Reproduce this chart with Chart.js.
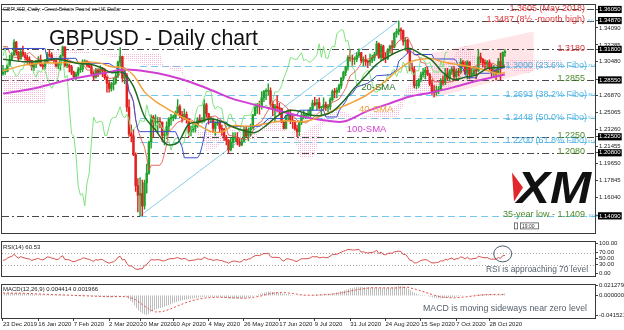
<!DOCTYPE html>
<html>
<head>
<meta charset="utf-8">
<title>GBPUSD - Daily chart</title>
<script src="https://cdn.jsdelivr.net/npm/chart.js"></script>
<style>
  html, body { margin: 0; padding: 0; background: #fff; }
  #wrap { position: relative; width: 624px; height: 330px; overflow: hidden; background: #fff; }
  #wrap canvas { position: absolute; left: 0; }
  #main { top: 0; }
  #rsi { top: 237px; }
  #macd { top: 280px; }
</style>
</head>
<body>
<div id="wrap">
  <canvas id="main" width="624" height="237"></canvas>
  <canvas id="rsi" width="624" height="43"></canvas>
  <canvas id="macd" width="624" height="50"></canvas>
</div>
<script>
// daily bars 23 Dec 2019 .. 6 Nov 2020 (index = bar number)
const closes = [
  1.2940,1.2945,1.3010,1.3075,1.3120,1.3255,1.3150,1.3080,1.3155,1.3120,
  1.3095,1.3065,1.3060,1.2990,1.3020,1.3040,1.3070,1.3010,1.3000,1.3045,
  1.3125,1.3120,1.3075,1.3060,1.3005,1.3015,1.3110,1.3205,1.3010,1.3010,
  1.2995,1.2935,1.2890,1.2915,1.2965,1.2970,1.3045,1.3050,1.3010,1.2995,
  1.2925,1.2885,1.2960,1.2935,1.2970,1.2955,1.2880,1.2820,1.2765,1.2805,
  1.2825,1.2895,1.3045,1.3105,1.2875,1.2905,1.2565,1.2280,1.2260,1.2060,
  1.1730,1.1630,1.1645,1.1515,1.1760,1.1865,1.2195,1.2460,1.2405,1.2405,
  1.2415,1.2405,1.2265,1.2265,1.2360,1.2440,1.2455,1.2455,1.2510,1.2570,
  1.2480,1.2450,1.2490,1.2435,1.2305,1.2325,1.2355,1.2365,1.2430,1.2415,
  1.2415,1.2590,1.2495,1.2440,1.2440,1.2340,1.2390,1.2405,1.2340,1.2330,
  1.2245,1.2215,1.2110,1.2190,1.2235,1.2235,1.2195,1.2165,1.2200,1.2330,
  1.2260,1.2325,1.2345,1.2480,1.2565,1.2585,1.2580,1.2665,1.2730,1.2735,
  1.2740,1.2595,1.2545,1.2575,1.2560,1.2550,1.2410,1.2340,1.2475,1.2495,
  1.2420,1.2415,1.2335,1.2305,1.2400,1.2475,1.2475,1.2480,1.2480,1.2545,
  1.2610,1.2595,1.2615,1.2560,1.2565,1.2590,1.2560,1.2570,1.2645,1.2730,
  1.2725,1.2745,1.2795,1.2875,1.2935,1.2995,1.3095,1.3085,1.3075,1.3075,
  1.3115,1.3145,1.3060,1.3075,1.3050,1.3045,1.3065,1.3090,1.3125,1.3240,
  1.3095,1.3215,1.3090,1.3085,1.3175,1.3215,1.3205,1.3350,1.3370,1.3390,
  1.3380,1.3265,1.3275,1.3160,1.2985,1.2965,1.2795,1.2795,1.2855,1.2910,
  1.2940,1.2960,1.2915,1.2815,1.2730,1.2725,1.2745,1.2750,1.2840,1.2825,
  1.2920,1.2875,1.2945,1.2970,1.2890,1.2945,1.2935,1.3045,1.3010,1.2925,
  1.3045,1.2915,1.2915,1.2955,1.2950,1.3100,1.3075,1.3040,1.3025,1.3045,
  1.2975,1.2935,1.2945,1.2930,1.3050,1.2990,1.3145,1.3150
];
const highs = [
  1.3010,1.2975,1.3020,1.3120,1.3145,1.3285,1.3265,1.3160,1.3190,1.3215,
  1.3150,1.3120,1.3100,1.3065,1.3050,1.3065,1.3105,1.3120,1.3030,1.3075,
  1.3150,1.3170,1.3145,1.3080,1.3080,1.3045,1.3120,1.3215,1.3210,1.3070,
  1.3025,1.3010,1.2950,1.2940,1.2990,1.3015,1.3070,1.3070,1.3060,1.3050,
  1.3010,1.2945,1.2980,1.2975,1.3005,1.2990,1.2975,1.2895,1.2840,1.2830,
  1.2875,1.2930,1.3055,1.3200,1.3110,1.2985,1.2925,1.2645,1.2375,1.2330,
  1.2080,1.1805,1.1815,1.1790,1.1790,1.1960,1.2205,1.2485,1.2475,1.2485,
  1.2460,1.2455,1.2410,1.2320,1.2410,1.2455,1.2490,1.2480,1.2525,1.2647,
  1.2590,1.2520,1.2545,1.2515,1.2440,1.2365,1.2405,1.2395,1.2455,1.2485,
  1.2455,1.2645,1.2605,1.2500,1.2465,1.2450,1.2410,1.2435,1.2420,1.2375,
  1.2340,1.2265,1.2220,1.2240,1.2295,1.2295,1.2295,1.2230,1.2235,1.2360,
  1.2360,1.2345,1.2385,1.2490,1.2585,1.2605,1.2630,1.2730,1.2745,1.2760,
  1.2813,1.2770,1.2630,1.2595,1.2690,1.2605,1.2555,1.2420,1.2480,1.2540,
  1.2540,1.2470,1.2425,1.2375,1.2405,1.2500,1.2530,1.2500,1.2535,1.2565,
  1.2640,1.2670,1.2650,1.2665,1.2575,1.2665,1.2620,1.2595,1.2665,1.2750,
  1.2765,1.2770,1.2810,1.2880,1.2950,1.3000,1.3115,1.3170,1.3120,1.3100,
  1.3145,1.3185,1.3145,1.3100,1.3120,1.3065,1.3130,1.3120,1.3150,1.3267,
  1.3250,1.3235,1.3225,1.3140,1.3190,1.3225,1.3275,1.3360,1.3400,1.3482,
  1.3410,1.3385,1.3305,1.3290,1.3165,1.3035,1.3000,1.2850,1.2870,1.2940,
  1.2980,1.2990,1.2995,1.2925,1.2855,1.2795,1.2790,1.2785,1.2870,1.2900,
  1.2980,1.2980,1.2965,1.2995,1.3000,1.2970,1.2980,1.3082,1.3065,1.3050,
  1.3060,1.3050,1.2975,1.3000,1.2990,1.3177,1.3140,1.3085,1.3070,1.3060,
  1.3070,1.3025,1.3010,1.2970,1.3085,1.3140,1.3155,1.3177
];
const lows = [
  1.2905,1.2915,1.2940,1.3000,1.3065,1.3115,1.3120,1.3050,1.3075,1.3105,
  1.3065,1.3030,1.3010,1.2960,1.2955,1.2985,1.3030,1.3000,1.2965,1.2970,
  1.3040,1.3100,1.3060,1.3035,1.2990,1.2975,1.2960,1.3100,1.2995,1.2985,
  1.2940,1.2910,1.2870,1.2850,1.2895,1.2935,1.2940,1.3020,1.2990,1.2985,
  1.2905,1.2850,1.2875,1.2890,1.2920,1.2890,1.2860,1.2725,1.2725,1.2735,
  1.2745,1.2810,1.2880,1.3000,1.2835,1.2815,1.2520,1.2255,1.2195,1.2050,
  1.1670,1.1450,1.1409,1.1410,1.1480,1.1650,1.1850,1.2130,1.2240,1.2305,
  1.2290,1.2345,1.2200,1.2165,1.2230,1.2310,1.2375,1.2420,1.2440,1.2500,
  1.2455,1.2405,1.2435,1.2395,1.2250,1.2260,1.2300,1.2300,1.2350,1.2400,
  1.2395,1.2405,1.2460,1.2385,1.2400,1.2300,1.2265,1.2370,1.2300,1.2265,
  1.2210,1.2165,1.2075,1.2100,1.2135,1.2195,1.2165,1.2145,1.2155,1.2200,
  1.2245,1.2205,1.2260,1.2335,1.2475,1.2500,1.2490,1.2545,1.2625,1.2645,
  1.2690,1.2575,1.2475,1.2410,1.2520,1.2490,1.2400,1.2330,1.2335,1.2420,
  1.2390,1.2340,1.2320,1.2252,1.2260,1.2380,1.2440,1.2445,1.2465,1.2460,
  1.2530,1.2580,1.2540,1.2545,1.2480,1.2535,1.2530,1.2515,1.2540,1.2630,
  1.2665,1.2665,1.2720,1.2765,1.2850,1.2900,1.2960,1.3055,1.3005,1.3020,
  1.3050,1.3095,1.3040,1.3005,1.3010,1.2985,1.3010,1.3040,1.3060,1.3115,
  1.3085,1.3060,1.3065,1.3040,1.3070,1.3140,1.3135,1.3195,1.3310,1.3335,
  1.3290,1.3225,1.3170,1.3140,1.2950,1.2940,1.2770,1.2760,1.2775,1.2835,
  1.2885,1.2865,1.2900,1.2795,1.2700,1.2675,1.2690,1.2710,1.2740,1.2800,
  1.2805,1.2855,1.2845,1.2915,1.2865,1.2865,1.2900,1.2925,1.2995,1.2915,
  1.2865,1.2865,1.2880,1.2900,1.2865,1.2945,1.3035,1.2990,1.2975,1.2985,
  1.2960,1.2880,1.2880,1.2855,1.2915,1.2855,1.2980,1.3105
];
const firstOpen = 1.2920;

const dateIdx = [0, 16, 32, 48, 62, 77, 93, 109, 125, 141, 157, 173, 189, 205, 220];
const dateLabels = ['23 Dec 2019', '16 Jan 2020', '7 Feb 2020', '2 Mar 2020', '20 Mar 2020', '10 Apr 2020',
  '4 May 2020', '26 May 2020', '17 Jun 2020', '9 Jul 2020', '31 Jul 2020', '24 Aug 2020',
  '15 Sep 2020', '7 Oct 2020', '28 Oct 2020'];

const priceTicks = [1.36050, 1.34870, 1.34090, 1.32285, 1.31800, 1.30480, 1.28550, 1.26870, 1.25065,
  1.23260, 1.22500, 1.21455, 1.20800, 1.19650, 1.17845, 1.16040, 1.14090];
const boxedTicks = [1.36050, 1.34870, 1.31800, 1.28550, 1.22500, 1.20800, 1.14090];

// moving averages [bar, value]
const sma20 = [[0,1.3075],[9,1.3050],[19,1.3062],[24,1.3077],[29,1.3057],[34,1.3030],[39,1.3025],[44,1.2990],
  [49,1.2934],[54,1.2936],[59,1.2786],[64,1.2466],[69,1.2321],[74,1.2170],[79,1.2188],[84,1.2382],[89,1.2410],
  [94,1.2443],[99,1.2412],[104,1.2354],[109,1.2315],[114,1.2295],[119,1.2370],[124,1.2471],[129,1.2528],
  [134,1.2523],[139,1.2481],[144,1.2477],[149,1.2519],[154,1.2629],[159,1.2772],[164,1.2897],[169,1.3021],
  [174,1.3100],[179,1.3160],[184,1.3191],[189,1.3129],[194,1.3064],[199,1.2932],[204,1.2858],[209,1.2885],
  [214,1.2906],[219,1.2976],[224,1.2988],[227,1.3000]];
const sma40 = [[0,1.2950],[9,1.3010],[19,1.3035],[29,1.3040],[39,1.3044],[44,1.3034],[49,1.2996],[54,1.2983],
  [59,1.2906],[64,1.2728],[69,1.2628],[74,1.2553],[79,1.2487],[84,1.2424],[89,1.2366],[94,1.2307],[99,1.2300],
  [104,1.2368],[109,1.2363],[114,1.2369],[119,1.2391],[124,1.2413],[129,1.2422],[134,1.2409],[139,1.2426],
  [144,1.2474],[149,1.2524],[154,1.2576],[159,1.2627],[164,1.2687],[169,1.2770],[174,1.2865],[179,1.2966],
  [184,1.3044],[189,1.3075],[194,1.3082],[199,1.3046],[204,1.3025],[209,1.3007],[214,1.2985],[219,1.2954],
  [224,1.2923],[227,1.2935]];
const sma100 = [[0,1.2710],[15,1.2770],[30,1.2860],[45,1.2925],[55,1.2965],[65,1.2945],[75,1.2900],[85,1.2830],
  [95,1.2740],[104,1.2654],[114,1.2590],[124,1.2532],[134,1.2473],[144,1.2430],[154,1.2412],[164,1.2516],
  [174,1.2598],[184,1.2678],[194,1.2722],[204,1.2779],[214,1.2844],[227,1.2914]];

// ichimoku lines [bar, value]
const tenkan = [[0,1.3210],[2,1.3210],[3,1.3143],[4,1.3118],[5,1.3095],[8,1.3095],[12,1.3148],[15,1.3085],
  [20,1.3053],[24,1.3068],[28,1.3088],[32,1.3043],[36,1.3030],[38,1.2960],[42,1.2960],[46,1.2955],[48,1.2868],
  [52,1.2890],[54,1.2963],[56,1.2860],[57,1.2728],[59,1.2625],[60,1.2435],[61,1.2325],[62,1.2255],[63,1.2197],
  [64,1.2140],[65,1.2027],[66,1.1892],[67,1.1947],[71,1.1948],[72,1.1983],[73,1.2068],[74,1.2168],[75,1.2308],
  [76,1.2325],[79,1.2406],[84,1.2449],[88,1.2385],[92,1.2448],[96,1.2473],[100,1.2405],[102,1.2268],[106,1.2248],
  [110,1.2218],[112,1.2255],[114,1.2368],[117,1.2415],[120,1.2537],[123,1.2647],[126,1.2607],[128,1.2572],
  [130,1.2510],[133,1.2426],[137,1.2396],[140,1.2446],[143,1.2510],[146,1.2565],[149,1.2615],[152,1.2650],
  [155,1.2765],[157,1.2900],[160,1.2960],[163,1.3068],[166,1.3083],[170,1.3133],[174,1.3153],[177,1.3210],
  [179,1.3271],[183,1.3311],[185,1.3216],[186,1.3126],[188,1.3110],[189,1.3045],[191,1.3030],[192,1.2968],
  [193,1.2903],[194,1.2885],[195,1.2838],[199,1.2835],[201,1.2828],[204,1.2845],[205,1.2855],[206,1.2870],
  [207,1.2941],[209,1.2966],[212,1.2974],[215,1.3021],[218,1.3021],[220,1.3038],[222,1.3028],[224,1.2998],
  [226,1.3005],[227,1.3015]];
const kijun = [[0,1.3190],[19,1.3190],[20,1.3085],[33,1.3085],[34,1.3035],[48,1.3030],[52,1.2970],[55,1.2970],
  [56,1.2868],[57,1.2735],[58,1.2698],[59,1.2625],[60,1.2435],[61,1.2325],[62,1.2305],[78,1.2305],[79,1.2255],
  [80,1.2197],[81,1.2140],[82,1.2027],[88,1.2027],[89,1.2063],[90,1.2148],[91,1.2248],[92,1.2390],[93,1.2406],
  [101,1.2406],[102,1.2361],[116,1.2361],[117,1.2372],[120,1.2444],[127,1.2444],[128,1.2482],[133,1.2482],
  [134,1.2533],[145,1.2533],[146,1.2461],[151,1.2461],[152,1.2526],[155,1.2626],[156,1.2676],[158,1.2711],
  [160,1.2780],[165,1.2820],[169,1.2900],[175,1.2910],[178,1.2960],[179,1.3056],[182,1.3116],[184,1.3171],
  [186,1.3126],[194,1.3126],[195,1.3078],[204,1.3078],[205,1.3060],[206,1.2998],[208,1.2980],[209,1.2920],
  [210,1.2878],[214,1.2878],[215,1.2926],[220,1.2926],[221,1.2933],[222,1.2953],[227,1.2990]];
const chikouShift = 26;

// kumo (senkou spans, already shifted forward)
const cloudX = [
  0, 10, 19, 20, 25, 26, 28, 29, 35, 45,
  55, 65, 71, 72, 73, 79, 80, 81, 82, 83,
  84, 85, 86, 87, 88, 89, 90, 92, 96, 99,
  101, 105, 106, 108, 110, 114, 118, 122, 126, 128,
  130, 131, 132, 133, 134, 136, 140, 141, 142, 143,
  144, 145, 146, 149, 152, 154, 156, 159, 163, 166,
  169, 172, 175, 178, 179, 180, 181, 182, 183, 185,
  186, 189, 192, 194, 195, 196, 200, 202, 203, 205,
  209, 211, 212, 215, 216, 218, 219, 220, 221, 225,
  226, 227, 230, 232, 235, 238, 241, 246, 250, 253];
const spanA = [
  1.2900, 1.2920, 1.2950, 1.3100, 1.3180, 1.3180, 1.3180, 1.3180, 1.3170, 1.3120,
  1.3070, 1.3010, 1.3000, 1.3000, 1.3000, 1.2935, 1.2966, 1.2920, 1.2864, 1.2731,
  1.2690, 1.2625, 1.2435, 1.2325, 1.2280, 1.2250, 1.2222, 1.2098, 1.2126, 1.2187,
  1.2307, 1.2330, 1.2300, 1.2214, 1.2238, 1.2206, 1.2419, 1.2440, 1.2405, 1.2315,
  1.2310, 1.2305, 1.2305, 1.2300, 1.2295, 1.2290, 1.2365, 1.2375, 1.2380, 1.2394,
  1.2420, 1.2450, 1.2490, 1.2546, 1.2526, 1.2527, 1.2496, 1.2454, 1.2465, 1.2490,
  1.2522, 1.2513, 1.2538, 1.2588, 1.2620, 1.2650, 1.2696, 1.2730, 1.2795, 1.2840,
  1.2870, 1.2934, 1.2957, 1.2990, 1.3000, 1.3017, 1.3032, 1.3060, 1.3075, 1.3164,
  1.3231, 1.3183, 1.3126, 1.3086, 1.3070, 1.3047, 1.3030, 1.3006, 1.2958, 1.2957,
  1.2958, 1.2960, 1.2962, 1.2934, 1.2943, 1.2926, 1.2974, 1.2982, 1.2976, 1.3003];
const spanB = [
  1.2600, 1.2600, 1.2600, 1.2860, 1.2860, 1.3020, 1.3020, 1.3143, 1.3143, 1.3143,
  1.3143, 1.3143, 1.3143, 1.3050, 1.3005, 1.3005, 1.3005, 1.3005, 1.2903, 1.2770,
  1.2740, 1.2668, 1.2478, 1.2368, 1.2347, 1.2312, 1.2312, 1.2312, 1.2312, 1.2312,
  1.2312, 1.2312, 1.2305, 1.2305, 1.2305, 1.2305, 1.2305, 1.2305, 1.2305, 1.2305,
  1.2305, 1.2255, 1.2197, 1.2140, 1.2028, 1.2028, 1.2028, 1.2063, 1.2148, 1.2248,
  1.2361, 1.2361, 1.2444, 1.2444, 1.2444, 1.2444, 1.2444, 1.2444, 1.2444, 1.2444,
  1.2444, 1.2444, 1.2444, 1.2444, 1.2478, 1.2550, 1.2575, 1.2660, 1.2670, 1.2690,
  1.2718, 1.2718, 1.2718, 1.2718, 1.2760, 1.2760, 1.2760, 1.2760, 1.2806, 1.2867,
  1.2867, 1.2867, 1.2936, 1.2950, 1.2961, 1.2970, 1.2981, 1.2981, 1.2981, 1.2981,
  1.3021, 1.3056, 1.3078, 1.3078, 1.3078, 1.3078, 1.3078, 1.3078, 1.3078, 1.3078];

// RSI(14), one value per bar
const rsi = [
  45,46,52,56,57,65,57,52,57,54, 52,50,49,44,47,49,51,47,46,50,
  56,55,52,51,47,48,55,60,47,47, 46,42,40,42,46,47,52,52,49,48,
  44,41,47,45,48,47,42,38,35,38, 40,45,55,58,46,48,34,26,26,21,
  16,14,17,16,27,31,40,47,46,46, 47,46,43,43,46,49,50,50,52,54,
  50,49,51,48,43,44,45,46,49,48, 48,55,51,48,48,44,46,47,44,44,
  40,39,35,39,42,42,40,39,41,48, 45,49,50,56,60,61,60,64,67,67,
  68,57,54,55,54,54,46,42,49,50, 47,46,42,41,46,50,50,50,50,53,
  57,56,57,53,54,55,53,54,59,64, 64,65,68,72,75,77,81,80,79,79,
  80,81,72,73,70,69,70,71,73,78, 67,72,64,63,67,69,68,73,74,75,
  74,64,64,56,45,44,36,36,40,44, 46,47,45,40,36,36,37,38,43,42,
  48,46,50,52,47,50,50,56,54,49, 55,49,49,51,51,58,56,54,53,54,
  50,48,49,48,54,51,60,60.5];
const rsiTicks = [100, 70, 50, 30, 0];
const rsiLevels = [70, 30];

// MACD(12,26,9) [bar, value]
const macdMain = [[0,0.0045],[5,0.0050],[8,0.0048],[12,0.0030],[16,0.0018],[20,0.0015],[24,0.0010],[27,0.0015],
  [30,-0.0002],[34,-0.0018],[38,-0.0012],[42,-0.0020],[46,-0.0030],[49,-0.0045],[52,-0.0010],[53,0.0005],
  [55,-0.0005],[56,-0.0040],[57,-0.0080],[58,-0.0120],[59,-0.0170],[60,-0.0240],[61,-0.0300],[62,-0.0340],
  [63,-0.0380],[64,-0.0400],[65,-0.0415],[66,-0.0385],[67,-0.0340],[69,-0.0290],[72,-0.0250],[75,-0.0200],
  [78,-0.0145],[81,-0.0100],[84,-0.0075],[88,-0.0050],[91,-0.0030],[95,-0.0035],[99,-0.0040],[102,-0.0065],
  [106,-0.0070],[110,-0.0050],[113,-0.0020],[116,0.0030],[120,0.0080],[123,0.0070],[126,0.0045],[130,0.0015],
  [134,-0.0010],[138,0.0000],[142,0.0020],[146,0.0020],[150,0.0045],[154,0.0095],[157,0.0150],[161,0.0180],
  [164,0.0170],[168,0.0160],[172,0.0160],[176,0.0165],[179,0.0200],[182,0.0180],[184,0.0120],[186,0.0055],
  [188,0.0020],[191,0.0005],[194,-0.0040],[197,-0.0065],[200,-0.0055],[204,-0.0035],[208,-0.0005],[212,0.0005],
  [216,0.0030],[220,0.0030],[223,0.0010],[225,0.0020],[227,0.0044]];
const macdSignal = [[0,0.0050],[8,0.0047],[16,0.0030],[24,0.0015],[32,0.0002],[40,-0.0014],[48,-0.0026],
  [54,-0.0022],[57,-0.0035],[60,-0.0090],[63,-0.0190],[66,-0.0290],[69,-0.0345],[72,-0.0340],[76,-0.0280],
  [80,-0.0200],[84,-0.0130],[88,-0.0080],[92,-0.0050],[98,-0.0038],[104,-0.0050],[110,-0.0060],[116,-0.0020],
  [121,0.0040],[126,0.0065],[131,0.0040],[136,0.0005],[142,0.0005],[148,0.0025],[154,0.0060],[160,0.0120],
  [166,0.0160],[172,0.0158],[178,0.0155],[183,0.0170],[187,0.0125],[191,0.0065],[195,0.0005],[199,-0.0040],
  [204,-0.0052],[209,-0.0032],[214,-0.0005],[219,0.0017],[224,0.0022],[227,0.0020]];
const macdTicks = [0.021279, 0, -0.041521];

// drawn objects
const grayLevels = [1.3605, 1.3487, 1.3180, 1.2855, 1.2250, 1.2080, 1.1409];
const fiboLevels = [1.3000, 1.2693, 1.2448, 1.2200, 1.1409];
const fiboPct = ['23.6', '38.2', '50.0', '61.8', '100.0'];
const trendFrom = [62, 1.1409];
const trendTo = [179, 1.3487];
const channelLow = [[194, 1.2660], [240, 1.2950]];
const channelHigh = [[194, 1.3140], [240, 1.3370]];
const levelValues = [1.3605, 1.3487, 1.3180, 1.3000, 1.2855, 1.2693, 1.2448, 1.2250, 1.2200, 1.2080, 1.1409];
const levelTexts = ['1.3605 (May 2018)', '1.3487 (8\u00bd -month high)', '1.3180', '1.3000 (23.6% Fibo)', '1.2855',
  '1.2693 (38.2% Fibo)', '1.2448 (50.0% Fibo)', '1.2250', '1.2200 (61.8% Fibo)', '1.2080', '35-year low - 1.1409'];
const levelKinds = ['r', 'r', 'r', 'b', 'g', 'b', 'b', 'g', 'b', 'g', 'g'];


const RED = '#e0393b', BLUE = '#4fb3e2', GREEN = '#4d8a2b';
const kindColor = { r: RED, b: BLUE, g: GREEN };
const FONT = 'Arial, "Liberation Sans", sans-serif';

const xMin = -0.45, xMax = 267.75;
const opens = closes.map((c, i) => i === 0 ? firstOpen : closes[i - 1]);  // daily open = prior close
const pts = arr => arr.map(p => ({ x: p[0], y: p[1] }));

function dotPattern() {
  const c = document.createElement('canvas');
  c.width = 2; c.height = 2;
  const g = c.getContext('2d');
  g.fillStyle = 'rgba(240,140,190,0.6)';
  g.fillRect(0, 0, 1, 1);
  return g.createPattern(c, 'repeat');
}
function stripePattern() {
  const c = document.createElement('canvas');
  c.width = 2; c.height = 1;
  const g = c.getContext('2d');
  g.fillStyle = '#bdbdbd';
  g.fillRect(0, 0, 1, 1);
  return g.createPattern(c, 'repeat');
}

function hLine(ctx, x1, x2, y, color, dash) {
  ctx.save();
  ctx.strokeStyle = color;
  ctx.lineWidth = 1;
  ctx.setLineDash(dash);
  ctx.beginPath();
  ctx.moveTo(x1, Math.round(y) + 0.5);
  ctx.lineTo(x2, Math.round(y) + 0.5);
  ctx.stroke();
  ctx.restore();
}

function text(ctx, str, x, y, font, color, align, width) {
  ctx.save();
  ctx.font = font;
  ctx.fillStyle = color;
  ctx.textBaseline = 'alphabetic';
  const m = ctx.measureText(str).width;
  const s = width ? width / m : 1;
  const x0 = align === 'right' ? x - m * s : x;
  ctx.translate(x0, y);
  ctx.scale(s, 1);
  ctx.fillText(str, 0, 0);
  ctx.restore();
}

const frame = {
  id: 'frame',
  afterDraw(chart) {
    const { ctx, chartArea: a } = chart;
    ctx.save();
    ctx.strokeStyle = '#3a3a3a';
    ctx.lineWidth = 1;
    ctx.strokeRect(Math.round(a.left) - 0.5, Math.round(a.top) - 0.5,
      Math.round(a.right - a.left) + 1, Math.round(a.bottom - a.top) + 1);
    ctx.restore();
  }
};

function rightAxis(min, max, ticks, fmt, boxed) {
  return {
    position: 'right', min, max,
    afterFit: s => { s.width = 29; },
    afterBuildTicks: s => { s.ticks = ticks.map(v => ({ value: v })); },
    grid: { drawOnChartArea: false, tickLength: 3, color: '#444' },
    border: { color: '#444' },
    ticks: {
      autoSkip: false, padding: 1,
      font: { family: FONT, size: 6 },
      color: c => boxed.includes(c.tick.value) ? '#fff' : '#222',
      showLabelBackdrop: c => boxed.includes(c.tick.value),
      backdropColor: '#000',
      backdropPadding: { left: 1, right: 1, top: 0, bottom: 0 },
      callback: fmt
    }
  };
}

const hiddenX = { type: 'linear', min: xMin, max: xMax, display: false, offset: false };

// ---------------- main price panel ----------------
const mainOverlay = {
  id: 'mainOverlay',
  beforeDatasetsDraw(chart) {
    const { ctx, chartArea: a, scales: { x, y } } = chart;
    ctx.save();
    ctx.beginPath();
    ctx.rect(a.left, a.top, a.right - a.left, a.bottom - a.top);
    ctx.clip();

    ctx.fillStyle = 'rgba(255,205,214,0.55)';
    ctx.beginPath();
    ctx.moveTo(x.getPixelForValue(channelLow[0][0]), y.getPixelForValue(channelLow[0][1]));
    ctx.lineTo(x.getPixelForValue(channelLow[1][0]), y.getPixelForValue(channelLow[1][1]));
    ctx.lineTo(x.getPixelForValue(channelHigh[1][0]), y.getPixelForValue(channelHigh[1][1]));
    ctx.lineTo(x.getPixelForValue(channelHigh[0][0]), y.getPixelForValue(channelHigh[0][1]));
    ctx.closePath();
    ctx.fill();

    const fx = x.getPixelForValue(trendFrom[0]);
    grayLevels.forEach(v => {
      const end = fiboLevels.includes(v) ? fx : a.right;
      hLine(ctx, a.left, end, y.getPixelForValue(v), '#4a4a4a', [7, 3, 2, 3]);
    });
    fiboLevels.forEach(v => hLine(ctx, fx, a.right, y.getPixelForValue(v), '#74c6ec', [7, 4]));

    ctx.strokeStyle = '#86cdee';
    ctx.lineWidth = 1;
    ctx.setLineDash([]);
    ctx.beginPath();
    ctx.moveTo(fx, y.getPixelForValue(trendFrom[1]));
    ctx.lineTo(x.getPixelForValue(trendTo[0]), y.getPixelForValue(trendTo[1]));
    ctx.stroke();
    ctx.restore();
  },
  afterDatasetsDraw(chart) {
    const { ctx, chartArea: a, scales: { x, y } } = chart;
    text(ctx, 'GBPUSD, Daily:  Great Britain Pound vs US Dollar', a.left + 1, a.top + 6, '6px ' + FONT, '#333', 'left', 118);
    text(ctx, 'GBPUSD - Daily chart', a.left + 47, a.top + 40, '22px ' + FONT, '#111', 'left', 209);

    levelValues.forEach((v, i) => {
      const py = y.getPixelForValue(v) + 1.5;
      const k = levelKinds[i];
      const xr = k === 'b' ? a.right - 8 : a.right - 10;
      text(ctx, levelTexts[i], xr, py, '9px ' + FONT, kindColor[k], 'right');
    });
    fiboLevels.forEach((v, i) => {
      text(ctx, fiboPct[i], a.right - 7, y.getPixelForValue(v) + 1, '4px ' + FONT, BLUE, 'left');
    });
    text(ctx, '0.0', a.right - 7, y.getPixelForValue(trendTo[1]) + 1, '4px ' + FONT, BLUE, 'left');

    text(ctx, '20-SMA', x.getPixelForValue(162), y.getPixelForValue(1.2745), '9.5px ' + FONT, '#2d6e2d', 'left');
    text(ctx, '40-SMA', x.getPixelForValue(161), y.getPixelForValue(1.2517), '9.5px ' + FONT, '#eea040', 'left');
    text(ctx, '100-SMA', x.getPixelForValue(155.5), y.getPixelForValue(1.2300), '9.5px ' + FONT, '#d23fd2', 'left');

    // XM logo
    const lx = a.right - 83, ly = a.top + 166;
    ctx.save();
    ctx.fillStyle = '#e3262b';
    ctx.beginPath();
    ctx.moveTo(lx, ly + 2);
    ctx.lineTo(lx + 11, ly + 17);
    ctx.lineTo(lx + 2, ly + 31);
    ctx.closePath();
    ctx.fill();
    ctx.restore();
    text(ctx, 'XM', lx + 5, ly + 32, 'italic 900 44px ' + FONT, '#111', 'left', 74);

    // time marker below the chart
    ctx.save();
    ctx.strokeStyle = '#555';
    ctx.lineWidth = 0.8;
    ctx.strokeRect(lx + 2.5, a.bottom - 9.5, 3, 6);
    ctx.strokeRect(lx + 8.5, a.bottom - 9.5, 18, 6);
    ctx.restore();
    text(ctx, '19:00', lx + 10, a.bottom - 4.5, '5px ' + FONT, '#333', 'left');
  }
};

const candleColor = c => closes[c.dataIndex] >= opens[c.dataIndex] ? '#21a12c' : '#e2201f';

new Chart(document.getElementById('main'), {
  type: 'bar',
  data: {
    datasets: [
      { type: 'line', data: cloudX.map((v, i) => ({ x: v, y: spanA[i] })), borderWidth: 0, pointRadius: 0,
        fill: '+1', backgroundColor: dotPattern(), order: 20 },
      { type: 'line', data: cloudX.map((v, i) => ({ x: v, y: spanB[i] })), borderWidth: 0, pointRadius: 0,
        fill: false, order: 21 },
      { type: 'line', data: closes.slice(chikouShift).map((c, i) => ({ x: i, y: c })), borderColor: '#80e27e',
        borderWidth: 1, pointRadius: 0, fill: false, order: 7 },
      { type: 'bar', data: closes.map((c, i) => ({ x: i, y: [lows[i], highs[i]] })), backgroundColor: candleColor,
        barThickness: 0.8, grouped: false, order: 10 },
      { type: 'bar', data: closes.map((c, i) => ({ x: i, y: [opens[i], c] })), backgroundColor: candleColor,
        barThickness: 1.8, minBarLength: 1, grouped: false, order: 9 },
      { type: 'line', data: pts(tenkan), borderColor: '#e2473f', borderWidth: 0.8, pointRadius: 0, fill: false, order: 6 },
      { type: 'line', data: pts(kijun), borderColor: '#3f4fd1', borderWidth: 1, pointRadius: 0, fill: false, order: 5 },
      { type: 'line', data: pts(sma100), borderColor: '#cf3fd3', borderWidth: 2, pointRadius: 0, fill: false, tension: 0.3, order: 4 },
      { type: 'line', data: pts(sma40), borderColor: '#f2a23a', borderWidth: 1.5, pointRadius: 0, fill: false, tension: 0.3, order: 3 },
      { type: 'line', data: pts(sma20), borderColor: '#1f6a1f', borderWidth: 1.5, pointRadius: 0, fill: false, tension: 0.3, order: 2 }
    ]
  },
  options: {
    responsive: false, animation: false, events: [],
    layout: { padding: { left: 2, top: 2, right: 0, bottom: 1 } },
    plugins: { legend: { display: false }, tooltip: { enabled: false } },
    scales: {
      x: hiddenX,
      y: rightAxis(1.12329, 1.36568, priceTicks, v => v.toFixed(5), boxedTicks)
    }
  },
  plugins: [mainOverlay, frame]
});

// ---------------- RSI panel ----------------
const rsiOverlay = {
  id: 'rsiOverlay',
  beforeDatasetsDraw(chart) {
    const { ctx, chartArea: a, scales: { y } } = chart;
    rsiLevels.forEach(v => hLine(ctx, a.left, a.right, y.getPixelForValue(v), '#a8a8a8', [1, 2]));
  },
  afterDatasetsDraw(chart) {
    const { ctx, chartArea: a, scales: { x, y } } = chart;
    text(ctx, 'RSI(14) 60.53', a.left + 1, a.top + 7, '6px ' + FONT, '#222', 'left');
    ctx.save();
    ctx.strokeStyle = '#4d5b68';
    ctx.lineWidth = 1;
    ctx.beginPath();
    ctx.ellipse(x.getPixelForValue(226), y.getPixelForValue(66), 9, 8, 0, 0, Math.PI * 2);
    ctx.stroke();
    ctx.restore();
    text(ctx, 'RSI is approaching 70 level', a.right - 7, a.top + 30, '9px ' + FONT, '#56616b', 'right', 102);
  }
};

new Chart(document.getElementById('rsi'), {
  type: 'line',
  data: {
    datasets: [{ data: rsi.map((v, i) => ({ x: i, y: v })), borderColor: '#d4504c', borderWidth: 1,
      pointRadius: 0, fill: false }]
  },
  options: {
    responsive: false, animation: false, events: [],
    layout: { padding: { left: 2, top: 1, right: 0, bottom: 1 } },
    plugins: { legend: { display: false }, tooltip: { enabled: false } },
    scales: {
      x: hiddenX,
      y: rightAxis(-5.48, 106.85, rsiTicks, v => v.toFixed(2), [])
    }
  },
  plugins: [rsiOverlay, frame]
});

// ---------------- MACD panel ----------------
const macdOverlay = {
  id: 'macdOverlay',
  afterDatasetsDraw(chart) {
    const { ctx, chartArea: a } = chart;
    text(ctx, 'MACD(12,26,9) 0.004414 0.001966', a.left + 1, a.top + 6, '6px ' + FONT, '#222', 'left');
    text(ctx, 'MACD is moving sideways near zero level', a.right - 8, a.top + 26, '9px ' + FONT, '#56616b', 'right', 164);
  }
};

const macdLabels = ['0.021279', '0.000000', '-0.041521'];
const macdY = rightAxis(-0.0472, 0.0226, macdTicks, (v, i) => macdLabels[i], []);

new Chart(document.getElementById('macd'), {
  type: 'line',
  data: {
    datasets: [
      { data: pts(macdSignal), borderColor: '#e0514f', borderWidth: 1, borderDash: [2, 2], pointRadius: 0,
        fill: false, order: 1 },
      { data: pts(macdMain), borderWidth: 0, pointRadius: 0, fill: 'origin', backgroundColor: stripePattern(),
        order: 2 }
    ]
  },
  options: {
    responsive: false, animation: false, events: [],
    layout: { padding: { left: 2, top: 1, right: 0, bottom: 0 } },
    plugins: { legend: { display: false }, tooltip: { enabled: false } },
    scales: {
      x: {
        type: 'linear', min: xMin, max: xMax, offset: false,
        afterFit: s => { s.height = 12; },
        afterBuildTicks: s => { s.ticks = dateIdx.map(v => ({ value: v })); },
        grid: { drawOnChartArea: false, tickLength: 3, color: '#444' },
        border: { color: '#444' },
        ticks: {
          autoSkip: false, maxRotation: 0, minRotation: 0, align: 'start', padding: 0,
          font: { family: FONT, size: 6 }, color: '#222',
          callback: (v, i) => dateLabels[i]
        }
      },
      y: macdY
    }
  },
  plugins: [macdOverlay, frame]
});
</script>
</body>
</html>
